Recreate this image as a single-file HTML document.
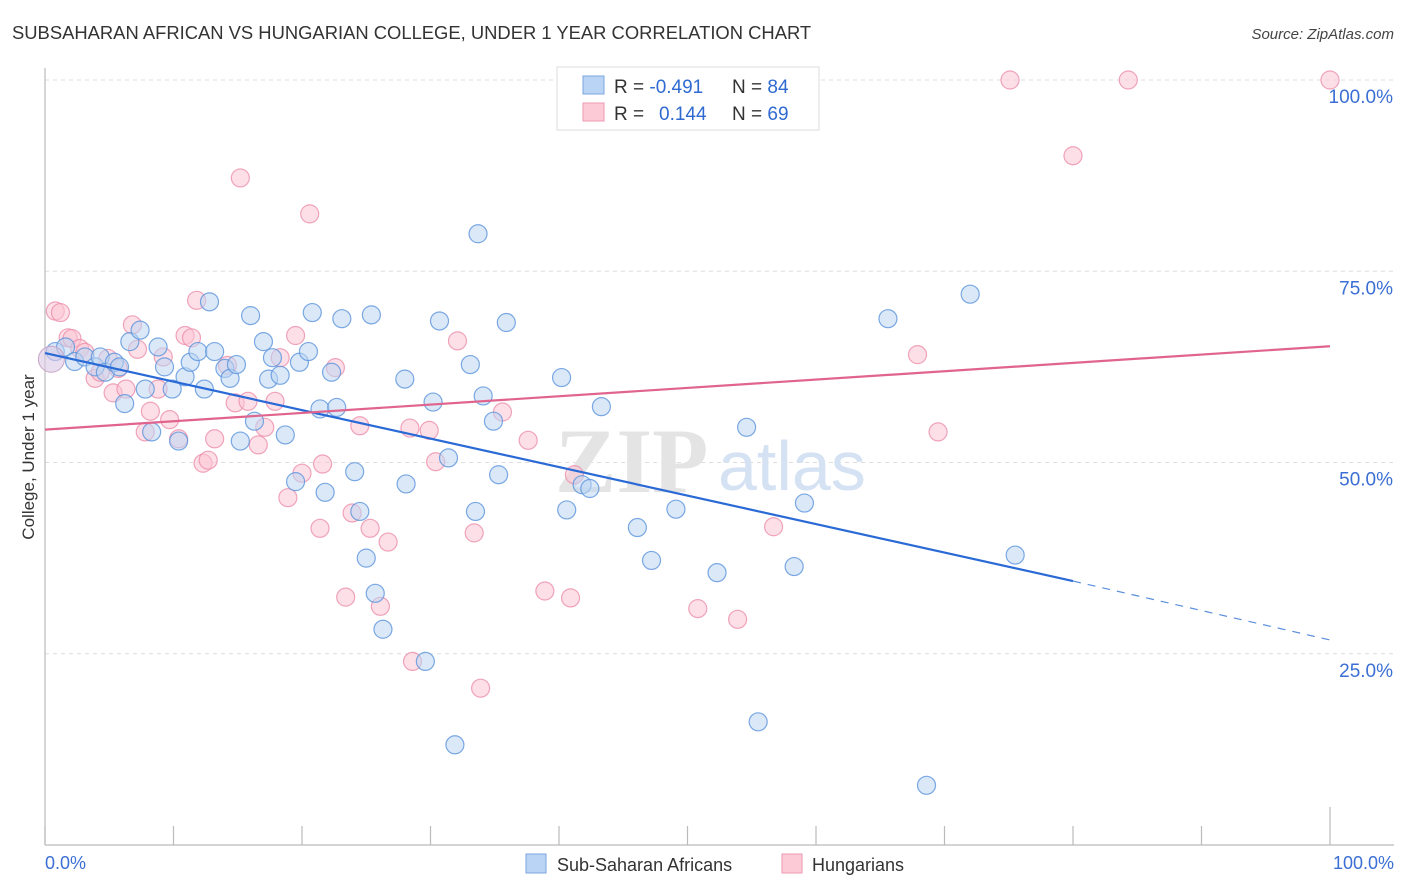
<!DOCTYPE html>
<html><head><meta charset="utf-8">
<style>
body{margin:0;background:#fff;font-family:"Liberation Sans",sans-serif;}
svg{display:block}
</style></head>
<body>
<svg id="chart" width="1406" height="892" xmlns="http://www.w3.org/2000/svg">
<text x="12" y="39" font-size="18.4" fill="#333" font-family="Liberation Sans, sans-serif">SUBSAHARAN AFRICAN VS HUNGARIAN COLLEGE, UNDER 1 YEAR CORRELATION CHART</text>
<text x="1394" y="39" font-size="15" fill="#444" font-style="italic" text-anchor="end">Source: ZipAtlas.com</text>
<g id="grid"></g>
<text x="555" y="492" font-size="92" fill="#e4e4e4" font-family="Liberation Serif, serif" font-weight="bold">ZIP</text>
<text x="718" y="490" font-size="70" fill="#d5e2f3">atlas</text>
<line x1="45" y1="68" x2="45" y2="845" stroke="#bbb" stroke-width="1.2"/>
<line x1="45" y1="845" x2="1394" y2="845" stroke="#bbb" stroke-width="1.2"/>
<g id="ticks"></g>
<g id="pts"></g>
<g id="trends"></g>
<text transform="translate(34,457) rotate(-90)" font-size="17" fill="#333" text-anchor="middle">College, Under 1 year</text>
<text x="45" y="869" font-size="18" fill="#3b6fd4">0.0%</text>
<text x="1394" y="869" font-size="18" fill="#3b6fd4" text-anchor="end">100.0%</text>
<g>
<rect x="557" y="67" width="262" height="63" fill="#fff" stroke="#ddd"/>
<rect x="583" y="76" width="21" height="18" fill="#b9d4f4" stroke="#7aa6e0"/>
<rect x="583" y="103" width="21" height="18" fill="#fcc9d7" stroke="#ee9ab1"/>
<text x="614" y="93" font-size="19" fill="#333">R = <tspan fill="#2f6ad0">-0.491</tspan></text>
<text x="732" y="93" font-size="19" fill="#333">N = <tspan fill="#2f6ad0">84</tspan></text>
<text x="614" y="120" font-size="19" fill="#333">R = <tspan fill="#2f6ad0" x="659">0.144</tspan></text>
<text x="732" y="120" font-size="19" fill="#333">N = <tspan fill="#2f6ad0">69</tspan></text>
</g>
<g>
<rect x="526" y="854" width="20" height="19" fill="#b9d4f4" stroke="#7aa6e0"/>
<text x="557" y="871" font-size="18" fill="#333">Sub-Saharan Africans</text>
<rect x="782" y="854" width="20" height="19" fill="#fcc9d7" stroke="#ee9ab1"/>
<text x="812" y="871" font-size="18" fill="#333">Hungarians</text>
</g>
</svg>
<script>
const yTicks=[100,75,50,25];
const yTickLabels=["100.0%","75.0%","50.0%","25.0%"];
const xTicks=[0,10,20,30,40,50,60,70,80,90,100];
const blueX=[0.8,1.6,2.3,3.1,3.9,4.3,4.7,5.4,5.8,6.2,6.6,7.4,7.8,8.3,8.8,9.3,9.9,10.4,10.9,11.3,11.9,12.4,12.8,13.2,14.0,14.4,14.9,15.2,16.0,16.3,17.0,17.4,17.7,18.3,18.7,19.5,19.8,20.5,20.8,21.4,21.8,22.3,22.7,23.1,24.1,24.5,25.0,25.4,25.7,26.3,28.0,28.1,29.6,30.2,30.7,31.4,31.9,33.1,33.5,33.7,34.1,34.9,35.3,35.9,40.2,40.6,41.8,42.4,43.3,46.1,47.2,49.1,52.3,54.6,55.5,58.3,59.1,65.6,68.6,72.0,75.5];
const blueY=[64.5,65.1,63.2,63.8,62.5,63.8,61.8,63.1,62.5,57.7,65.8,67.3,59.6,54.0,65.1,62.5,59.6,52.8,61.2,63.1,64.5,59.6,71.0,64.5,62.3,61.0,62.8,52.8,69.2,55.4,65.8,60.9,63.7,61.4,53.6,47.5,63.1,64.5,69.6,57.0,46.1,61.8,57.2,68.8,48.8,43.6,37.5,69.3,32.9,28.2,60.9,47.2,24.0,57.9,68.5,50.6,13.1,62.8,43.6,79.9,58.7,55.4,48.4,68.3,61.1,43.8,47.1,46.6,57.3,41.5,37.2,43.9,35.6,54.6,16.1,36.4,44.7,68.8,7.8,72.0,37.9];
const pinkX=[0.8,1.2,1.8,2.1,2.7,3.1,3.9,4.3,4.9,5.3,5.7,6.3,6.8,7.2,7.8,8.2,8.8,9.2,9.7,10.4,10.9,11.4,11.8,12.3,12.7,13.2,14.2,14.8,15.2,15.8,16.6,17.1,17.9,18.3,18.9,19.5,20.0,20.6,21.4,21.6,22.6,23.4,23.9,24.5,25.3,26.1,26.7,28.4,28.6,29.9,30.4,32.1,33.4,33.9,35.6,37.6,38.9,40.9,41.2,50.8,53.9,56.7,67.9,69.5,75.1,80.0,84.3,100];
const pinkY=[69.8,69.6,66.3,66.2,64.9,64.4,61.0,61.8,63.6,59.1,62.3,59.6,68.0,64.8,54.0,56.7,59.6,63.8,55.6,53.1,66.6,66.3,71.2,49.9,50.3,53.1,62.7,57.8,87.2,58.0,52.3,54.6,58.0,63.7,45.4,66.6,48.6,82.5,41.4,49.8,62.4,32.4,43.4,54.8,41.4,31.2,39.6,54.5,24.0,54.2,50.1,65.9,40.8,20.5,56.6,52.9,33.2,32.3,48.4,30.9,29.5,41.6,64.1,54.0,100,90.1,100,100];
const blueTrend=[0,64.3,80,34.5,100,26.8];
const pinkTrend=[0,54.3,100,65.2];
const X0=45,X1=1330,YT=80,YB=845;
const xs=v=>X0+(X1-X0)*v/100;
const ys=v=>YB-(YB-YT)*v/100;
const NS="http://www.w3.org/2000/svg";
function mk(t,a){const e=document.createElementNS(NS,t);for(const k in a)e.setAttribute(k,a[k]);return e;}
const grid=document.getElementById('grid');
yTicks.forEach((t,i)=>{
 const l=mk('line',{x1:45,x2:1394,y1:ys(t),y2:ys(t),stroke:'#ddd','stroke-dasharray':'4,4'});
 
 
 grid.appendChild(l);
 const tx=mk('text',{x:1393,y:ys(t)+23,'font-size':19,fill:'#3b6fd4','text-anchor':'end'});
 tx.textContent=yTickLabels[i];
 
 
 grid.appendChild(tx);
});
const ticks=document.getElementById('ticks');
xTicks.forEach(t=>{
 const l=mk('line',{x1:xs(t),x2:xs(t),y1:t==100?807:826,y2:845,stroke:'#bbb','stroke-width':1.2});
 
 
 ticks.appendChild(l);
});
const pts=document.getElementById('pts');
function draw(X,Y,fill,stroke,name){
 X.forEach((x,i)=>{
  const c=mk('circle',{cx:xs(x),cy:ys(Y[i]),r:9,fill:fill,'fill-opacity':0.55,stroke:stroke,'stroke-width':1.2,'stroke-opacity':0.8});
  
  
  pts.appendChild(c);
 });
}
draw(pinkX,pinkY,'#fbc4d3','#ec8fab','hungarian-point');
draw(blueX,blueY,'#bcd5f3','#5b93dc','subsaharan-point');
const big=mk('circle',{cx:xs(0.5),cy:ys(63.5),r:13,fill:'#d9c8e4','fill-opacity':0.6,stroke:'#c9a6c8'});


pts.appendChild(big);
const tr=document.getElementById('trends');
const b1=mk('line',{x1:xs(blueTrend[0]),y1:ys(blueTrend[1]),x2:xs(blueTrend[2]),y2:ys(blueTrend[3]),stroke:'#2a6ad6','stroke-width':2.2});


tr.appendChild(b1);
const b2=mk('line',{x1:xs(blueTrend[2]),y1:ys(blueTrend[3]),x2:xs(blueTrend[4]),y2:ys(blueTrend[5]),stroke:'#5b8fdc','stroke-width':1.2,'stroke-dasharray':'8,7'});


tr.appendChild(b2);
const p1=mk('line',{x1:xs(pinkTrend[0]),y1:ys(pinkTrend[1]),x2:xs(pinkTrend[2]),y2:ys(pinkTrend[3]),stroke:'#e0648d','stroke-width':2.2});


tr.appendChild(p1);
</script>
</body></html>
